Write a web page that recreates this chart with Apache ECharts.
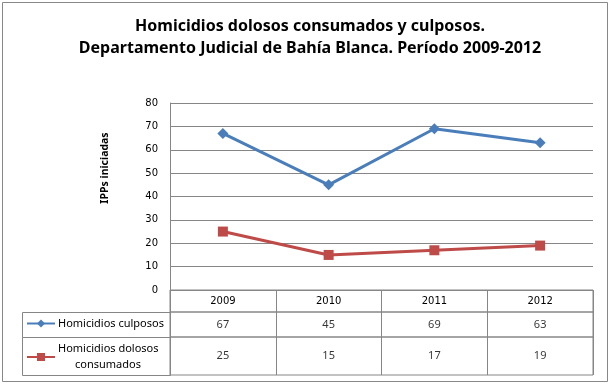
<!DOCTYPE html>
<html><head><meta charset="utf-8">
<script src="https://cdn.jsdelivr.net/npm/echarts@6/dist/echarts.min.js"></script>
<style>html,body{margin:0;padding:0;background:#fff}#c{width:610px;height:386px}</style>
</head><body><div id="c"></div>
<script>
const categories = ['2009', '2010', '2011', '2012'];
const culposos = [67, 45, 69, 63];
const dolosos = [25, 15, 17, 19];
const seriesNames = ['Homicidios culposos', 'Homicidios dolosos consumados'];
const yTicks = { min: 0, max: 80, interval: 10 };

const gridColor = '#868686';
const blue = '#4A7EBB';
const red = '#BE4B48';
const L = 170, R = 17;

const chart = echarts.init(document.getElementById('c'), null, { renderer: 'canvas' });

function rowXAxis(gridIndex, showLabels, pos) {
  return {
    type: 'category', gridIndex: gridIndex, data: categories, boundaryGap: true,
    position: pos || 'bottom',
    axisLine: { show: false }, axisTick: { show: false },
    axisLabel: showLabels ? { show: true, inside: true, margin: 6, fontFamily: 'DejaVu Sans', fontSize: 10, color: '#000' } : { show: false },
    splitLine: { show: true, lineStyle: { color: gridColor, width: 1 } }
  };
}
function rowYAxis(gridIndex) {
  return { type: 'value', gridIndex: gridIndex, min: 0, max: 1, show: false, splitLine: { show: false } };
}
function valueCells(name, vals, gi) {
  return {
    type: 'scatter', name: name + ' (tabla)', xAxisIndex: gi, yAxisIndex: gi,
    symbolSize: 0, silent: true,
    data: vals.map((v, i) => [i, 0.5, v]),
    label: { show: true, position: 'inside', formatter: p => String(p.value[2]), fontFamily: 'Noto Sans', fontSize: 11, color: '#000' }
  };
}

const option = {
  animation: false,
  backgroundColor: '#fff',
  title: {
    text: 'Homicidios dolosos consumados y culposos.\nDepartamento Judicial de Bahía Blanca. Período 2009-2012',
    left: 305, top: 10, textAlign: 'center',
    textStyle: { fontFamily: 'Noto Sans', fontWeight: 'bold', fontSize: 16, lineHeight: 22, color: '#000' }
  },
  legend: [
    {
      data: [seriesNames[0]], left: 26, top: 318, itemWidth: 28, itemHeight: 10, itemGap: 0,
      padding: 0, selectedMode: false,
      textStyle: { fontFamily: 'Noto Sans', fontSize: 11, color: '#000', padding: [0, 0, 0, -2] }
    },
    {
      data: [seriesNames[1]], left: 26, top: 341, itemWidth: 28, itemHeight: 10, itemGap: 0,
      padding: 0, selectedMode: false,
      formatter: () => '{a|Homicidios dolosos}\n{b|consumados}',
      textStyle: {
        fontFamily: 'Noto Sans', fontSize: 11, color: '#000', lineHeight: 16, padding: [0, 0, 0, -2],
        rich: { a: { fontFamily: 'Noto Sans', fontSize: 11, lineHeight: 16 }, b: { fontFamily: 'Noto Sans', fontSize: 11, lineHeight: 16, padding: [0, 0, 0, 17] } }
      }
    }
  ],
  grid: [
    { left: L, right: R, top: 103, height: 187, show: false },
    { left: L, right: R, top: 290, height: 22, show: true, borderColor: gridColor, borderWidth: 1, backgroundColor: 'transparent' },
    { left: L, right: R, top: 312, height: 25, show: true, borderColor: gridColor, borderWidth: 1, backgroundColor: 'transparent' },
    { left: L, right: R, top: 337, height: 38, show: true, borderColor: gridColor, borderWidth: 1, backgroundColor: 'transparent' }
  ],
  xAxis: [
    { type: 'category', gridIndex: 0, data: categories, boundaryGap: true, axisLine: { show: false }, axisTick: { show: false }, axisLabel: { show: false }, splitLine: { show: false } },
    rowXAxis(1, true, 'top'),
    rowXAxis(2, false),
    rowXAxis(3, false)
  ],
  yAxis: [
    {
      type: 'value', gridIndex: 0, min: yTicks.min, max: yTicks.max, interval: yTicks.interval,
      axisLine: { show: true, lineStyle: { color: gridColor, width: 1 } },
      axisTick: { show: false },
      axisLabel: { margin: 12, fontFamily: 'DejaVu Sans', fontSize: 10, color: '#000' },
      splitLine: { show: true, lineStyle: { color: gridColor, width: 1 } }
    },
    rowYAxis(1), rowYAxis(2), rowYAxis(3)
  ],
  series: [
    {
      type: 'line', name: seriesNames[0], data: culposos, xAxisIndex: 0, yAxisIndex: 0,
      symbol: 'diamond', symbolSize: 11, showSymbol: true,
      lineStyle: { color: blue, width: 3 }, itemStyle: { color: blue }
    },
    {
      type: 'line', name: seriesNames[1], data: dolosos, xAxisIndex: 0, yAxisIndex: 0,
      symbol: 'rect', symbolSize: 10, showSymbol: true,
      lineStyle: { color: red, width: 3 }, itemStyle: { color: red }
    },
    valueCells(seriesNames[0], culposos, 2),
    valueCells(seriesNames[1], dolosos, 3)
  ],
  graphic: [
    { type: 'rect', shape: { x: 2.5, y: 2.5, width: 605, height: 379 }, style: { fill: 'none', stroke: '#888', lineWidth: 1 }, silent: true, z: -1 },
    { type: 'rect', shape: { x: 22.5, y: 312.5, width: 148, height: 25 }, style: { fill: 'none', stroke: gridColor, lineWidth: 1 }, silent: true },
    { type: 'rect', shape: { x: 22.5, y: 337.5, width: 148, height: 38 }, style: { fill: 'none', stroke: gridColor, lineWidth: 1 }, silent: true },
    { type: 'text', x: 105, y: 168, rotation: Math.PI / 2, style: { text: 'IPPs iniciadas', fontFamily: 'Noto Sans', fontWeight: 'bold', fontSize: 10.5, fill: '#000', textAlign: 'center', textVerticalAlign: 'middle' }, silent: true }
  ]
};
chart.setOption(option);
</script>
</body></html>
